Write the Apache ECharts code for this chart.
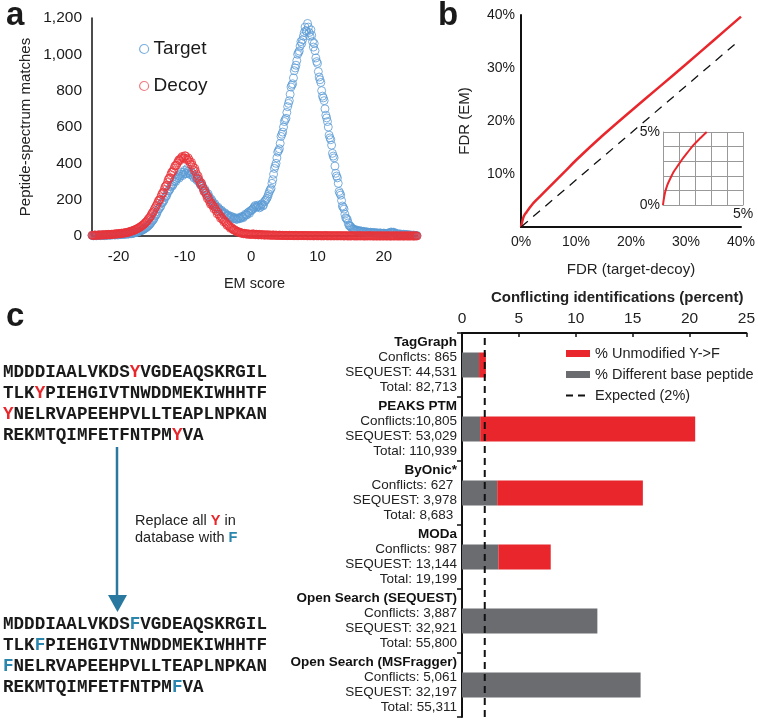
<!DOCTYPE html>
<html>
<head>
<meta charset="UTF-8">
<title>EM score / FDR / conflicting identifications</title>
<script src="https://cdn.jsdelivr.net/npm/echarts@6/dist/echarts.min.js"></script>
<style>
  html, body { margin: 0; padding: 0; background: #fff; }
  #chart { width: 758px; height: 722px; }
</style>
</head>
<body>
<div id="chart"></div>
<script>
// ---- panel a : EM score histogram, two interleaved bin sets (0.25 wide) ----
var emStartA = -24, emStartB = -23.875, emStep = 0.25;
var targetCountsA = [
  3,1,4,2,5,2,4,6,3,5,7,4,6,8,5,9,7,10,8,12,9,13,11,15,13,
  16,18,21,24,27,31,36,42,49,57,66,80,90,110,122,148,
  158,180,190,212,222,248,258,280,285,305,312,332,328,350,340,362,345,358,
  340,352,328,335,312,315,290,288,265,258,236,232,208,202,182,178,160,158,
  145,142,128,128,114,115,104,108,96,102,92,98,95,104,100,112,115,128,125,140,
  148,162,158,170,155,172,165,188,200,218,245,262,
  310,372,400,462,480,548,572,630,648,712,745,820,838,910,940,1000,1018,1070,1080,1120,1130,1170,
  1120,1135,1070,1060,980,950,875,845,770,745,665,630,555,530,455,430,345,320,245,225,165,148,100,90,58,52,
  40,38,30,32,26,28,22,26,20,23,18,21,16,20,15,18,14,17,13,16,
  12,15,14,20,18,21,12,14,9,11,7,10,6,8,5,6,3,5,2,3
];
var targetCountsB = [
  2,4,1,3,6,3,5,2,6,4,5,8,6,7,9,6,10,8,11,9,12,10,14,12,
  15,17,19,23,26,29,33,39,45,52,61,72,85,98,115,135,
  150,165,185,198,218,236,250,270,276,298,300,322,318,340,332,352,342,372,
  350,338,346,320,325,305,300,280,278,250,246,222,218,195,192,172,168,152,
  150,135,135,120,122,110,112,100,104,95,96,92,100,98,108,106,120,118,132,138,
  145,155,168,162,165,160,178,172,195,208,232,255,
  290,340,385,430,470,510,560,600,640,680,730,780,830,870,925,965,1010,1045,1060,1100,1150,1125,
  1150,1100,1105,1040,1020,960,905,860,800,760,700,650,600,540,500,440,385,330,290,235,195,158,120,96,72,56,
  45,36,34,29,30,25,27,23,22,21,20,19,18,17,17,16,15,16,14,15,
  14,13,16,17,22,19,16,12,10,10,9,8,7,7,6,5,4,4,3,2
];
var decoyCountsA = [
  4,3,5,4,6,4,7,5,8,6,9,7,10,9,12,10,14,12,16,15,19,18,23,24,28,
  30,35,38,44,48,56,62,72,80,94,104,122,134,154,170,192,
  200,228,240,270,280,310,320,350,360,385,390,412,415,432,428,442,
  425,430,408,405,378,372,340,330,298,292,262,250,225,215,188,182,
  165,160,138,132,112,106,90,84,68,64,50,48,38,35,27,25,
  20,18,14,15,11,12,9,10,
  12,8,10,7,9,6,8,5,7,5,6,4,6,4,5,3,5,3,4,3,
  4,2,4,3,3,2,4,2,3,2,3,2,3,1,3,2,2,1,3,2,
  2,1,2,1,3,1,2,1,2,1,2,1,2,1,2,0,2,1,1,0,
  2,1,1,0,2,1,1,0,1,0,2,1,1,0,1,0,1,0,1,0,
  1,0,1,0,1,0,1,0,1,0,1,0,1,0,1,0,1,0,1,0
];
var decoyCountsB = [
  3,5,4,5,5,6,6,6,7,8,8,9,9,11,11,13,13,15,14,17,17,20,21,26,
  29,32,37,41,47,52,59,66,76,86,98,112,128,145,162,180,
  198,215,236,255,275,295,318,338,352,372,388,402,420,425,438,430,
  440,418,420,395,390,362,355,318,312,285,275,245,235,208,200,175,
  172,150,148,122,120,98,96,78,76,58,56,42,42,32,30,22,
  22,16,16,12,13,10,11,9,
  9,11,7,9,6,8,6,6,5,6,5,5,4,5,4,4,3,4,3,3,
  3,3,3,2,3,2,2,2,2,2,2,2,2,2,2,1,2,1,2,1,
  1,2,1,1,2,1,1,1,1,1,1,1,1,1,1,1,1,1,0,1,
  1,1,0,1,1,0,1,1,0,1,1,0,1,0,1,0,1,0,1,0,
  1,0,1,0,0,1,0,1,0,0,1,0,0,1,0,0,1,0,0,1
];
var emTicks = [-20, -10, 0, 10, 20];

// ---- panel b : FDR comparison ----
var fdrTargetDecoy = [0, 0.5, 1, 2, 3, 5, 8, 10, 15, 20, 25, 30, 35, 40];
var fdrEM          = [0, 2.0, 2.8, 4.2, 5.3, 7.4, 10.5, 12.6, 17.4, 21.9, 26.3, 30.7, 35.2, 39.7];
var diagX = [0, 39];
var diagY = [0, 34.6];
var insetX = [0, 0.05, 0.14, 0.28, 0.45, 0.65, 0.87, 1.18, 1.5, 1.9, 2.3, 2.73];
var insetY = [0, 0.4, 0.9, 1.4, 1.8, 2.25, 2.6, 3.1, 3.55, 4.1, 4.55, 5.0];

// ---- panel c : conflicting identifications ----
var tools = ['TagGraph', 'PEAKS PTM', 'ByOnic*', 'MODa', 'Open Search (SEQUEST)', 'Open Search (MSFragger)'];
var conflictText = ['Conflcts: 865', 'Conflicts:10,805', 'Conflicts: 627 ', 'Conflicts: 987', 'Conflicts: 3,887', 'Conflicts: 5,061'];
var sequestText = ['SEQUEST: 44,531', 'SEQUEST: 53,029', 'SEQUEST: 3,978', 'SEQUEST: 13,144', 'SEQUEST: 32,921', 'SEQUEST: 32,197'];
var totalText = ['Total: 82,713', 'Total: 110,939', 'Total: 8,683 ', 'Total: 19,199', 'Total: 55,800', 'Total: 55,311'];
var diffBase = [1.5, 1.6, 3.1, 3.2, 11.9, 15.7];
var unmodYF = [0.6, 18.9, 12.8, 4.6, 0, 0];
var expected = 2;

var seqBefore = ['MDDDIAALVKDSYVGDEAQSKRGIL', 'TLKYPIEHGIVTNWDDMEKIWHHTF', 'YNELRVAPEEHPVLLTEAPLNPKAN', 'REKMTQIMFETFNTPMYVA'];
var seqAfter  = ['MDDDIAALVKDSFVGDEAQSKRGIL', 'TLKFPIEHGIVTNWDDMEKIWHHTF', 'FNELRVAPEEHPVLLTEAPLNPKAN', 'REKMTQIMFETFNTPMFVA'];
var seqMark = [12, 3, 0, 16];

var FONT = 'Liberation Sans, Arial, sans-serif';
var RED = '#e8262b', TEAL = '#2a86ad', GREY = '#6b6c70', INK = '#1a1a1a';
var BLUE_PT = '#5b9bd5', RED_PT = '#e8333a';

function bins(start, arr) {
  return arr.map(function (v, i) { return [start + i * emStep, v]; });
}
function pairs(xs, ys) {
  return xs.map(function (x, i) { return [x, ys[i]]; });
}
function seqRich(line, k, tag) {
  return '{n|' + line.slice(0, k) + '}{' + tag + '|' + line.charAt(k) + '}{n|' + line.slice(k + 1) + '}';
}

var seqRichStyle = {
  n: { fontFamily: 'Liberation Mono, monospace', fontWeight: 'bold', fontSize: 17.6, fill: INK },
  r: { fontFamily: 'Liberation Mono, monospace', fontWeight: 'bold', fontSize: 17.6, fill: RED },
  f: { fontFamily: 'Liberation Mono, monospace', fontWeight: 'bold', fontSize: 17.6, fill: TEAL }
};

var graphics = [
  { type: 'text', x: 6, y: 16, style: { text: 'a', fontFamily: FONT, fontWeight: 'bold', fontSize: 33, fill: INK, verticalAlign: 'middle' } },
  { type: 'text', x: 438, y: 16, style: { text: 'b', fontFamily: FONT, fontWeight: 'bold', fontSize: 33, fill: INK, verticalAlign: 'middle' } },
  { type: 'text', x: 6, y: 317, style: { text: 'c', fontFamily: FONT, fontWeight: 'bold', fontSize: 33, fill: INK, verticalAlign: 'middle' } },
  { type: 'line', shape: { x1: 117, y1: 447, x2: 117, y2: 598 }, style: { stroke: '#2878a0', lineWidth: 2.5 } },
  { type: 'polygon', shape: { points: [[108, 595], [127, 595], [117.5, 612]] }, style: { fill: '#2878a0' } },
  { type: 'text', x: 135, y: 512, style: {
      text: '{n|Replace all }{r|Y}{n| in}\n{n|database with }{f|F}',
      verticalAlign: 'top',
      rich: {
        n: { fontFamily: FONT, fontSize: 14.5, fill: '#222', lineHeight: 17 },
        r: { fontFamily: FONT, fontSize: 14.5, fontWeight: 'bold', fill: RED, lineHeight: 17 },
        f: { fontFamily: FONT, fontSize: 14.5, fontWeight: 'bold', fill: TEAL, lineHeight: 17 }
      }
  } }
];
seqBefore.forEach(function (s, i) {
  graphics.push({ type: 'text', x: 3, y: 373 + i * 21, style: { text: seqRich(s, seqMark[i], 'r'), rich: seqRichStyle, verticalAlign: 'middle' } });
});
seqAfter.forEach(function (s, i) {
  graphics.push({ type: 'text', x: 3, y: 625 + i * 21, style: { text: seqRich(s, seqMark[i], 'f'), rich: seqRichStyle, verticalAlign: 'middle' } });
});

function emSeries(name, start, arr, color, z) {
  return {
    name: name, type: 'scatter', xAxisIndex: 0, yAxisIndex: 0,
    symbol: 'circle', symbolSize: 8,
    itemStyle: { color: 'transparent', borderColor: color, borderWidth: 1 },
    data: bins(start, arr), z: z
  };
}

var chart = echarts.init(document.getElementById('chart'), null, { renderer: 'canvas' });

var option = {
  animation: false,
  backgroundColor: '#fff',
  textStyle: { fontFamily: FONT, color: INK },
  legend: [
    {
      orient: 'vertical', left: 134, top: 34, itemWidth: 9, itemHeight: 9, itemGap: 17,
      textStyle: { fontSize: 19, color: INK, lineHeight: 20 },
      data: [
        { name: 'Target', icon: 'circle', itemStyle: { color: 'transparent', borderColor: BLUE_PT, borderWidth: 1.2 } },
        { name: 'Decoy', icon: 'circle', itemStyle: { color: 'transparent', borderColor: '#ec5a5e', borderWidth: 1.2 } }
      ]
    },
    {
      orient: 'vertical', left: 560, top: 341, itemWidth: 24, itemHeight: 7, itemGap: 6,
      textStyle: { fontSize: 14.5, color: '#222', lineHeight: 15 },
      data: [
        { name: '% Unmodified Y->F', icon: 'rect' },
        { name: '% Different base peptide', icon: 'rect' },
        { name: 'Expected (2%)', itemStyle: { opacity: 0 }, lineStyle: { color: '#111', width: 2, type: [7, 5] } }
      ]
    }
  ],
  grid: [
    { left: 92, top: 18, width: 325, height: 218 },
    { left: 521, top: 15, width: 220, height: 212 },
    { left: 663, top: 132, width: 80, height: 73 },
    { left: 462, top: 333, width: 286, height: 384 }
  ],
  xAxis: [
    {
      gridIndex: 0, type: 'value', min: -24, max: 25,
      name: 'EM score', nameLocation: 'middle', nameGap: 40,
      nameTextStyle: { fontSize: 14.5, color: '#222' },
      axisLine: { onZero: false, lineStyle: { color: '#111', width: 1.5 } },
      axisTick: { show: false }, splitLine: { show: false },
      axisLabel: { customValues: emTicks, fontSize: 15, color: INK, margin: 13 }
    },
    {
      gridIndex: 1, type: 'value', min: 0, max: 40, interval: 10,
      name: 'FDR (target-decoy)', nameLocation: 'middle', nameGap: 35,
      nameTextStyle: { fontSize: 15, color: '#222' },
      axisLine: { onZero: false, lineStyle: { color: '#111', width: 2 } },
      axisTick: { show: false }, splitLine: { show: false },
      axisLabel: { fontSize: 14, color: INK, margin: 8, formatter: function (v) { return v + '%'; } }
    },
    {
      gridIndex: 2, type: 'value', min: 0, max: 5, interval: 1,
      axisLine: { onZero: false, lineStyle: { color: '#999', width: 1 } },
      axisTick: { show: false },
      splitLine: { show: true, lineStyle: { color: '#999', width: 1 } },
      axisLabel: { customValues: [5], fontSize: 14, color: INK, margin: 2, formatter: function (v) { return v + '%'; } }
    },
    {
      gridIndex: 3, type: 'value', min: 0, max: 25, interval: 5, position: 'top',
      name: 'Conflicting identifications (percent)', nameLocation: 'middle', nameGap: 28,
      nameTextStyle: { fontSize: 15, fontWeight: 'bold', color: '#222', padding: [0, 0, 0, 26] },
      axisLine: { onZero: false, lineStyle: { color: '#111', width: 2 } },
      axisTick: { show: true, inside: true, length: 4, lineStyle: { color: '#111', width: 1.5 } },
      splitLine: { show: false },
      axisLabel: { fontSize: 15.5, color: '#222', margin: 6 }
    }
  ],
  yAxis: [
    {
      gridIndex: 0, type: 'value', min: 0, max: 1200, interval: 200,
      name: 'Peptide-spectrum matches', nameLocation: 'middle', nameGap: 59,
      nameTextStyle: { fontSize: 15, color: '#222' },
      axisLine: { show: true, onZero: false, lineStyle: { color: '#111', width: 1.5 } },
      axisTick: { show: false }, splitLine: { show: false },
      axisLabel: { fontSize: 15.5, color: INK, margin: 10, formatter: function (v) { return v.toLocaleString('en-US'); } }
    },
    {
      gridIndex: 1, type: 'value', min: 0, max: 40, interval: 10,
      name: 'FDR (EM)', nameLocation: 'middle', nameGap: 49,
      nameTextStyle: { fontSize: 15, color: '#222' },
      axisLine: { show: true, onZero: false, lineStyle: { color: '#111', width: 2 } },
      axisTick: { show: false }, splitLine: { show: false },
      axisLabel: { fontSize: 14, color: INK, margin: 6, formatter: function (v) { return v === 0 ? '' : v + '%'; } }
    },
    {
      gridIndex: 2, type: 'value', min: 0, max: 5, interval: 1,
      axisLine: { show: true, onZero: false, lineStyle: { color: '#999', width: 1 } },
      axisTick: { show: false },
      splitLine: { show: true, lineStyle: { color: '#999', width: 1 } },
      axisLabel: { customValues: [0, 5], fontSize: 14, color: INK, margin: 3, formatter: function (v) { return v + '%'; } }
    },
    {
      gridIndex: 3, type: 'category', data: tools, inverse: true,
      axisLine: { onZero: false, lineStyle: { color: '#111', width: 2 } },
      axisTick: { show: true, length: 5, lineStyle: { color: '#111', width: 1.5 } },
      axisLabel: {
        margin: 5, align: 'right',
        formatter: function (v, i) {
          return '{t|' + v + '}\n{n|' + conflictText[i] + '}\n{n|' + sequestText[i] + '}\n{n|' + totalText[i] + '}';
        },
        rich: {
          t: { fontFamily: FONT, fontSize: 13.5, fontWeight: 'bold', color: '#111', lineHeight: 15, align: 'right' },
          n: { fontFamily: FONT, fontSize: 13.5, color: '#222', lineHeight: 15, align: 'right' }
        }
      }
    },
    { gridIndex: 3, type: 'value', min: 0, max: 1, show: false }
  ],
  series: [
    emSeries('Target', emStartA, targetCountsA, BLUE_PT, 2),
    emSeries('Target', emStartB, targetCountsB, BLUE_PT, 2),
    emSeries('Decoy', emStartA, decoyCountsA, RED_PT, 3),
    emSeries('Decoy', emStartB, decoyCountsB, RED_PT, 3),
    {
      name: 'FDR EM', type: 'line', xAxisIndex: 1, yAxisIndex: 1, symbol: 'none', smooth: 0.3,
      lineStyle: { color: RED, width: 2.5 }, data: pairs(fdrTargetDecoy, fdrEM), z: 3
    },
    {
      name: 'diagonal', type: 'line', xAxisIndex: 1, yAxisIndex: 1, symbol: 'none',
      lineStyle: { color: '#111', width: 1.3, type: [9, 7] }, data: pairs(diagX, diagY)
    },
    {
      name: 'inset', type: 'line', xAxisIndex: 2, yAxisIndex: 2, symbol: 'none', smooth: 0.3,
      lineStyle: { color: RED, width: 2 }, data: pairs(insetX, insetY), z: 3
    },
    {
      name: '% Different base peptide', type: 'bar', xAxisIndex: 3, yAxisIndex: 3, stack: 'c',
      barWidth: 25, itemStyle: { color: GREY }, data: diffBase
    },
    {
      name: '% Unmodified Y->F', type: 'bar', xAxisIndex: 3, yAxisIndex: 3, stack: 'c',
      barWidth: 25, itemStyle: { color: RED }, data: unmodYF
    },
    {
      name: 'Expected (2%)', type: 'line', xAxisIndex: 3, yAxisIndex: 4, symbol: 'none',
      itemStyle: { color: '#111' },
      lineStyle: { color: '#111', width: 2, type: [7, 5] },
      data: [[expected, 0], [expected, 1]], z: 5
    }
  ],
  graphic: graphics
};

chart.setOption(option);
</script>
</body>
</html>
